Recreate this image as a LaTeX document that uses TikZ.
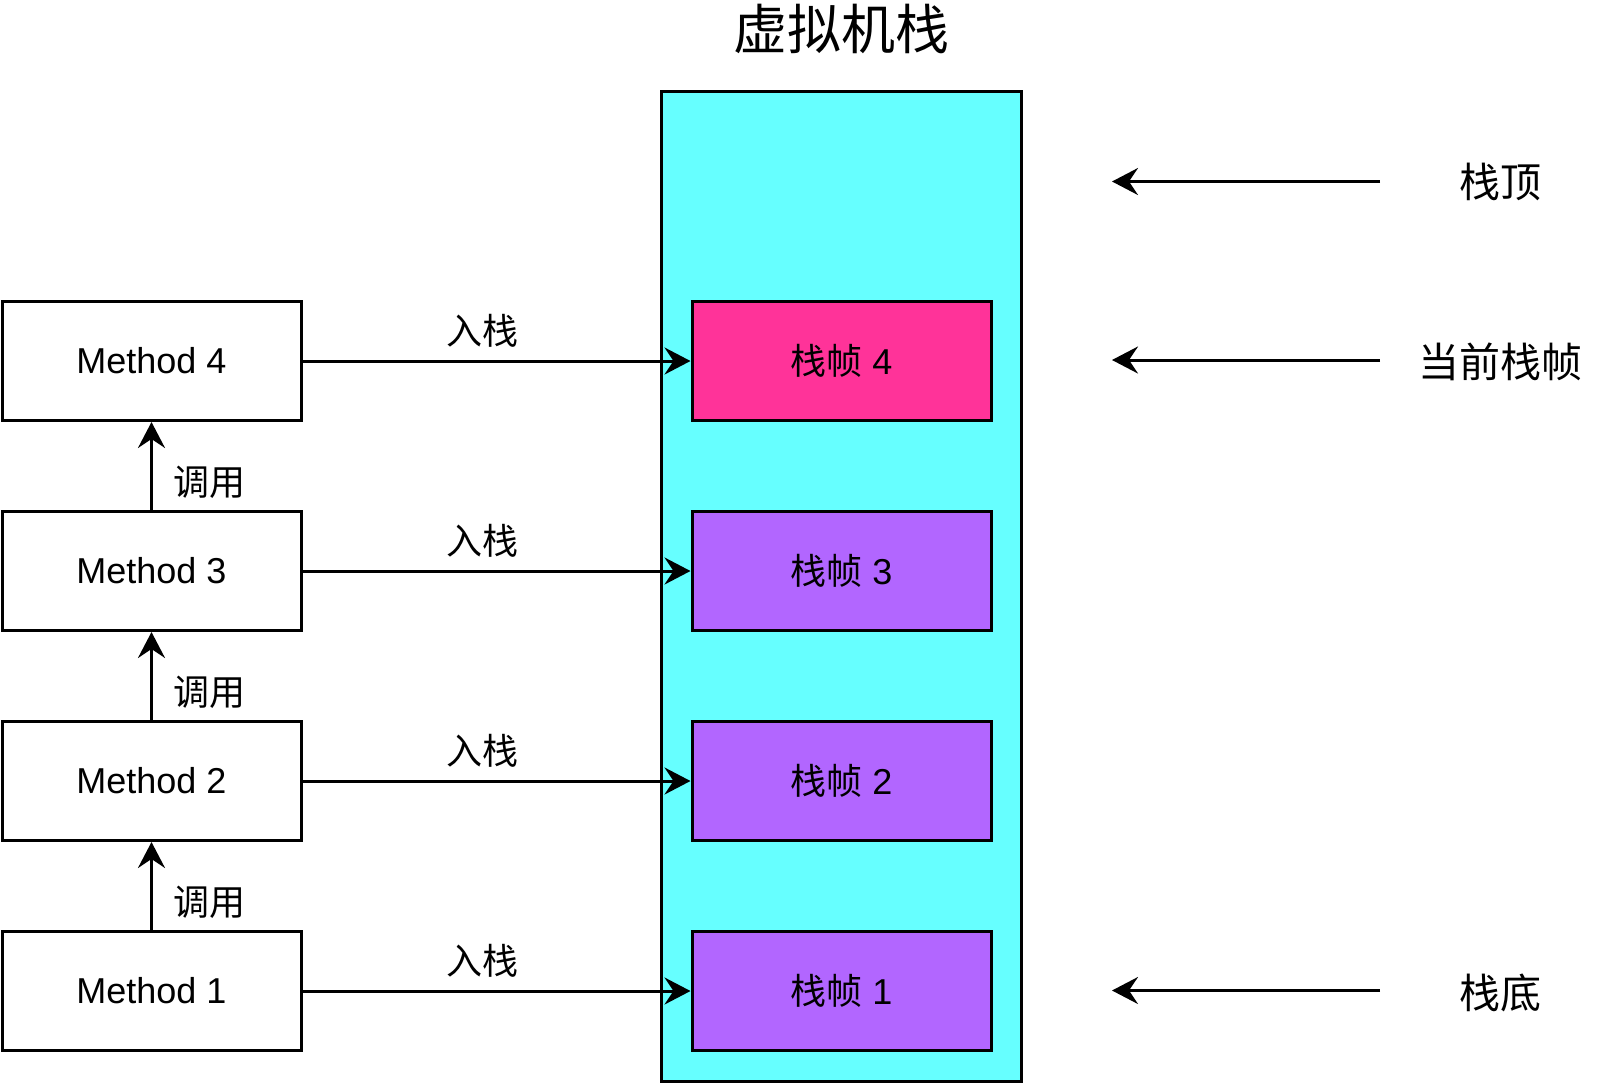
\documentclass[tikz,border=0pt]{standalone}
\usepackage{fontspec}
\setmainfont{Liberation Sans}
\newfontfamily\cjk{Noto Sans CJK SC}
\usetikzlibrary{arrows.meta}
\definecolor{stackcyan}{HTML}{66FFFF}
\definecolor{framepink}{HTML}{FF3399}
\definecolor{framepurple}{HTML}{B266FF}
\tikzset{
	method/.style={draw, line width=1.5pt, minimum width=149.5pt, minimum height=59.5pt,
			inner sep=0pt, font=\fontsize{18}{20}\selectfont},
	stackframe/.style={method, fill=framepurple},
	push/.style={-{Stealth[length=13pt, width=13.5pt, inset=4.5pt]}, line width=1.5pt},
	pushlbl/.style={pos=0.465, yshift=15pt, font=\cjk\fontsize{18}{20}\selectfont},
	calllbl/.style={pos=0.32, xshift=29pt, font=\cjk\fontsize{18}{20}\selectfont},
	marklbl/.style={font=\cjk\fontsize{20.5}{24}\selectfont}
}

\begin{document}
\begin{tikzpicture}[x=0.5pt, y=-0.5pt]
		\useasboundingbox (0,0) rectangle (1608,1083);

		% the stack itself
		\node[draw, line width=1.5pt, fill=stackcyan, minimum width=180pt, minimum height=495pt,
			inner sep=0pt] (stack) at (841.5,586) {};
		\node[font=\cjk\fontsize{27}{30}\selectfont] (title) at (841,29) {虚拟机栈};

		% frames
		\node[stackframe, fill=framepink] (f4) at (841.5,361) {{\cjk 栈帧} 4};
		\node[stackframe] (f3) at (841.5,571) {{\cjk 栈帧} 3};
		\node[stackframe] (f2) at (841.5,781) {{\cjk 栈帧} 2};
		\node[stackframe] (f1) at (841.5,991) {{\cjk 栈帧} 1};

		% methods
		\node[method] (m4) at (151.5,361) {Method 4};
		\node[method] (m3) at (151.5,571) {Method 3};
		\node[method] (m2) at (151.5,781) {Method 2};
		\node[method] (m1) at (151.5,991) {Method 1};

		% calls
		\draw[push] (m1) -- node[calllbl] {调用} (m2);
		\draw[push] (m2) -- node[calllbl] {调用} (m3);
		\draw[push] (m3) -- node[calllbl] {调用} (m4);

		% push onto the stack
		\draw[push] (m1) -- node[pushlbl] {入栈} (f1);
		\draw[push] (m2) -- node[pushlbl] {入栈} (f2);
		\draw[push] (m3) -- node[pushlbl] {入栈} (f3);
		\draw[push] (m4) -- node[pushlbl] {入栈} (f4);

		% markers on the right
		\node[marklbl] (top) at (1500,182) {栈顶};
		\node[marklbl] (cur) at (1500,362) {当前栈帧};
		\node[marklbl] (bottom) at (1500,993) {栈底};
		\coordinate (topstart) at (1380,181.5);
		\coordinate (topend) at (1112,181.5);
		\coordinate (curstart) at (1380,360);
		\coordinate (curend) at (1112,360);
		\coordinate (bottomstart) at (1380,990.5);
		\coordinate (bottomend) at (1112,990.5);
		\draw[push] (topstart) -- (topend);
		\draw[push] (curstart) -- (curend);
		\draw[push] (bottomstart) -- (bottomend);
	\end{tikzpicture}
\end{document}
